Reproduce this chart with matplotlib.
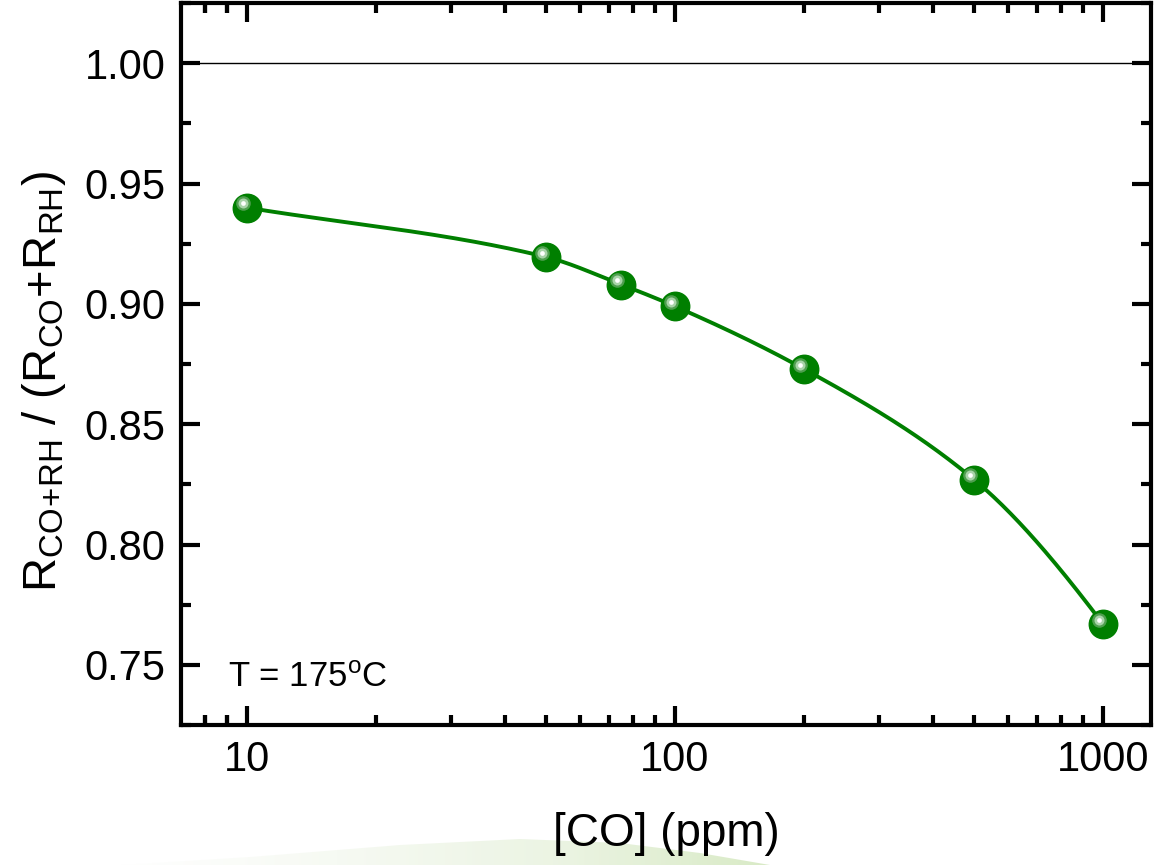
import numpy as np
import matplotlib
matplotlib.use("Agg")
import matplotlib.pyplot as plt
from matplotlib.ticker import FixedLocator, NullFormatter, MultipleLocator, FormatStrFormatter
from matplotlib.transforms import offset_copy
from matplotlib.patches import Polygon
from matplotlib.colors import LinearSegmentedColormap

plt.rcParams['font.family'] = ['Liberation Sans', 'DejaVu Sans']
plt.rcParams['mathtext.fontset'] = 'custom'
plt.rcParams['mathtext.rm'] = 'Liberation Sans'
plt.rcParams['mathtext.it'] = 'Liberation Sans'

# CO concentration (ppm) and normalised resistance ratio at 175 C
co_ppm = [10, 50, 75, 100, 200, 500, 1000]
ratio = [0.940, 0.9195, 0.908, 0.899, 0.873, 0.827, 0.767]
x_ticks = [10, 100, 1000]
x_tick_labels = ["10", "100", "1000"]

green = "#007f00"


def smooth_connect(x, y, xs):
    """Shape-preserving cubic Hermite curve through (x, y)."""
    x = np.asarray(x, float)
    y = np.asarray(y, float)
    n = len(x)
    h = np.diff(x)
    delta = np.diff(y) / h
    d = np.zeros(n)
    for k in range(1, n - 1):
        if delta[k - 1] * delta[k] > 0:
            w1 = 2 * h[k] + h[k - 1]
            w2 = h[k] + 2 * h[k - 1]
            d[k] = (w1 + w2) / (w1 / delta[k - 1] + w2 / delta[k])
    d[0] = delta[0]
    d[-1] = ((2 * h[-1] + h[-2]) * delta[-1] - h[-1] * delta[-2]) / (h[-1] + h[-2])
    idx = np.clip(np.searchsorted(x, xs) - 1, 0, n - 2)
    t = (xs - x[idx]) / h[idx]
    h00 = 2 * t ** 3 - 3 * t ** 2 + 1
    h10 = t ** 3 - 2 * t ** 2 + t
    h01 = -2 * t ** 3 + 3 * t ** 2
    h11 = t ** 3 - t ** 2
    return (h00 * y[idx] + h10 * h[idx] * d[idx]
            + h01 * y[idx + 1] + h11 * h[idx] * d[idx + 1])


fig = plt.figure(figsize=(11.61, 8.65), dpi=100)

# faint green swoosh along the lower edge
swoosh = fig.add_axes([0, 0, 1, 1], zorder=-5)
swoosh.set_axis_off()
swoosh.set_xlim(0, 1161)
swoosh.set_ylim(865, 0)
grad = np.linspace(0, 1, 256)[None, :]
cmap = LinearSegmentedColormap.from_list(
    "sw", ["#ffffff", "#f3f8ee", "#e4f0d8", "#c9e2ae"])
im = swoosh.imshow(grad, extent=(120, 770, 865, 830), cmap=cmap, aspect="auto", alpha=0.7)
clip = Polygon([[120, 865], [250, 857], [400, 845], [520, 839], [620, 843],
                [700, 853], [770, 865]],
               closed=True, transform=swoosh.transData, facecolor="none", edgecolor="none")
swoosh.add_patch(clip)
im.set_clip_path(clip)

ax = fig.add_axes([0.1559, 0.1618, 0.8355, 0.8347])
ax.set_xscale("log")
ax.set_xlim(7.02, 1295)
ax.set_ylim(0.725, 1.025)

# reference level
ax.axhline(1.0, color="black", lw=1.0, zorder=1)

# smooth connecting curve in log-concentration through the measured points
lx = np.log10(co_ppm)
lxs = np.linspace(lx.min(), lx.max(), 400)
ax.plot(10 ** lxs, smooth_connect(lx, ratio, lxs), color=green, lw=2.8, zorder=2)

# shaded spherical markers
ax.plot(co_ppm, ratio, "o", ms=20.5, color=green, mec=green, zorder=3)
hl = offset_copy(ax.transData, fig=fig, x=-3.0, y=3.0, units="points")
ax.plot(co_ppm, ratio, "o", ms=10.5, color="#4f9f4f", mew=0, transform=hl, zorder=4)
ax.plot(co_ppm, ratio, "o", ms=7.2, color="#a9d3a9", mew=0, transform=hl, zorder=5)
ax.plot(co_ppm, ratio, "o", ms=3.4, color="white", mew=0, transform=hl, zorder=6)

ax.text(0.048, 0.053, "T = 175$^{\\mathregular{o}}$C", transform=ax.transAxes,
        fontsize=25, ha="left", va="baseline")

# axes styling
for s in ax.spines.values():
    s.set_linewidth(3)
ax.xaxis.set_major_locator(FixedLocator(x_ticks))
ax.set_xticklabels(x_tick_labels)
ax.xaxis.set_minor_locator(FixedLocator(
    [v * d for d in (1, 10, 100) for v in range(2, 10)] + [8, 9]))
ax.xaxis.set_minor_formatter(NullFormatter())
ax.yaxis.set_major_locator(MultipleLocator(0.05))
ax.yaxis.set_minor_locator(MultipleLocator(0.025))
ax.yaxis.set_major_formatter(FormatStrFormatter("%.2f"))
ax.tick_params(which="both", direction="in", top=True, right=True, width=3)
ax.tick_params(which="major", length=14, labelsize=30, pad=11)
ax.tick_params(which="minor", length=7)

ax.set_xlabel("[CO] (ppm)", fontsize=33, labelpad=23)
ax.set_ylabel(r"$\mathregular{R_{CO\!+\!RH}\ /\ (R_{CO}{+}R_{RH})}$", fontsize=34)
ax.yaxis.set_label_coords(-0.117, 0.475)

fig.savefig("out.png", dpi=100)
